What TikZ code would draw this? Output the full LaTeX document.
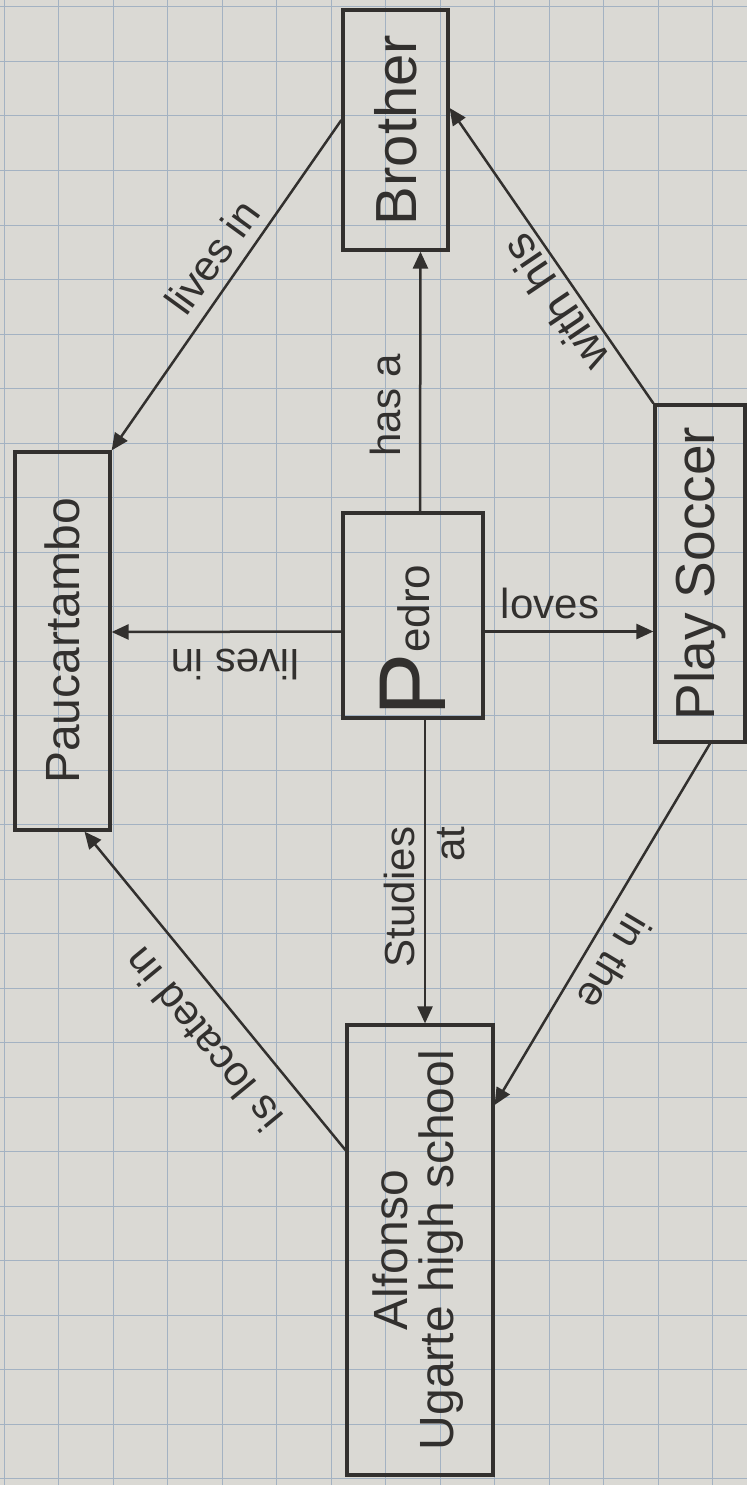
\documentclass[tikz,border=0pt]{standalone}
\usepackage{fontspec}
\setmainfont{Liberation Sans}
\usetikzlibrary{arrows.meta,calc}
\definecolor{paper}{RGB}{218,217,212}
\definecolor{gridc}{RGB}{163,178,194}
\definecolor{ink}{RGB}{50,48,46}
\tikzset{
  concept/.style={draw=ink, line width=3.2pt, text=ink, inner sep=0pt,
    font=\fontsize{48}{52}\selectfont},
  link/.style={draw=ink, line width=2.5pt, -{Triangle[length=17pt,width=15pt]}},
  lbl/.style={text=ink, inner sep=0pt, font=\fontsize{42}{50}\selectfont}
}
\begin{document}
\begin{tikzpicture}[x=1pt,y=-1pt]
\useasboundingbox (0,0) rectangle (747,1485);
\fill[paper] (0,0) rectangle (747,1485);
\foreach \k in {0,...,13} {\draw[gridc, line width=1pt] ({4+54.5*\k},0) -- ({4+54.5*\k},1485);}
\foreach \k in {0,...,27} {\draw[gridc, line width=1pt] (0,{7+54.5*\k}) -- (747,{7+54.5*\k});}

% concepts
\node[concept, minimum width=95pt, minimum height=378pt] (pas) at (62.5,641) {\rotatebox{90}{Paucartambo}};
\node[concept, minimum width=105pt, minimum height=240pt, font=\fontsize{58}{60}\selectfont] (bro) at (395.5,130) {\rotatebox{90}{Brother}};
\node[concept, minimum width=140pt, minimum height=205pt, font=\fontsize{44}{50}\selectfont] (ped) at (413,615.5) {\rotatebox{90}{\hspace*{-50pt}\raisebox{-16pt}{\fontsize{95}{95}\selectfont P}edro}};
\node[concept, minimum width=90pt, minimum height=337pt, font=\fontsize{55}{58}\selectfont] (soc) at (700,573.5) {\rotatebox{90}{Play Soccer}};
\node[concept, minimum width=146pt, minimum height=450pt] (alf) at (420,1250) {\rotatebox{90}{\begin{tabular}{@{}c@{}}Alfonso\\[-6pt]Ugarte high school\end{tabular}}};

% connectors
\draw[link] ($(bro.west)+(0,-10)$) -- (pas.north east);
\draw[link] ($(ped.north)+(7,0)$) -- ($(bro.south)+(25,0)$);
\draw[link] ($(ped.west)+(0,16)$) -- ($(pas.east)+(0,-9)$);
\draw[link] ($(ped.east)+(0,16)$) -- ($(soc.west)+(0,58)$);
\draw[link] (soc.north west) -- ($(bro.east)+(0,-22)$);
\draw[link] ($(ped.south)+(12,0)$) -- ($(alf.north)+(5,0)$);
\draw[link] ($(soc.south)+(10,0)$) -- ($(alf.east)+(0,-145)$);
\draw[link] ($(alf.west)+(0,-100)$) -- ($(pas.south)+(22,0)$);

% labels
\node[lbl, rotate=54] (l1) at (212,257) {lives in};
\node[lbl, rotate=90] (l2) at (385,405) {has a};
\node[lbl, rotate=180] (l3) at (235,665) {lives in};
\node[lbl] (l4) at (550,603) {loves};
\node[lbl, rotate=124, font=\fontsize{46}{50}\selectfont] (l5) at (555,303) {with his};
\node[lbl, rotate=90, align=right] (l6) at (424,897) {Studies\\at};
\node[lbl, rotate=-121] (l7) at (615,962) {in the};
\node[lbl, rotate=129.5] (l8) at (203,1040) {is located in};
\end{tikzpicture}
\end{document}
